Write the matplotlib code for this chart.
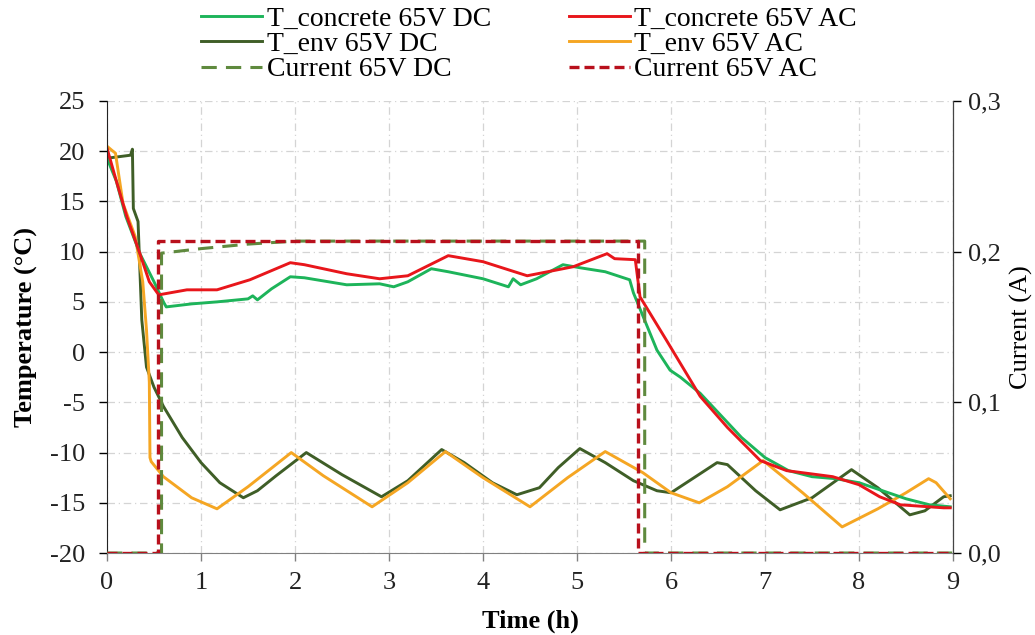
import matplotlib
matplotlib.use('Agg')
import matplotlib.pyplot as plt
from matplotlib.ticker import FuncFormatter, MultipleLocator

plt.rcParams['font.family'] = ['Liberation Serif', 'DejaVu Serif']

# temperature series (time in h, temperature in degC)
conc_dc_t = [0, 0.1, 0.2, 0.35, 0.5, 0.6, 0.63, 0.9, 1.17, 1.5, 1.55, 1.6, 1.75, 1.95, 2.1, 2.55,
             2.9, 3.05, 3.2, 3.45, 3.63, 4.0, 4.27, 4.32, 4.4, 4.57, 4.85, 5.03, 5.3, 5.56, 5.6,
             5.85, 5.99, 6.1, 6.31, 6.5, 6.75, 7.0, 7.25, 7.5, 7.75, 8.0, 8.25, 8.5, 8.75, 8.97]
conc_dc_v = [19.3, 17.0, 13.5, 9.8, 7.0, 5.0, 4.5, 4.8, 5.0, 5.3, 5.6, 5.2, 6.3, 7.5, 7.4, 6.7,
             6.8, 6.5, 7.0, 8.3, 8.0, 7.3, 6.5, 7.3, 6.7, 7.3, 8.7, 8.4, 8.0, 7.2, 5.9,
             0.2, -1.8, -2.5, -4.1, -6.0, -8.5, -10.5, -11.8, -12.4, -12.6, -13.0, -13.8, -14.6, -15.2, -15.4]

conc_ac_t = [0, 0.1, 0.21, 0.35, 0.45, 0.55, 0.85, 1.17, 1.52, 1.95, 2.1, 2.55, 2.9, 3.2, 3.63,
             4.0, 4.47, 4.96, 5.32, 5.4, 5.62, 5.67, 5.95, 6.31, 6.6, 6.95, 7.23, 7.72, 8.0, 8.22,
             8.44, 8.9, 8.97]
conc_ac_v = [20.3, 17.0, 13.5, 9.8, 7.0, 5.7, 6.2, 6.2, 7.2, 8.9, 8.7, 7.8, 7.3, 7.6, 9.6,
             9.0, 7.6, 8.5, 9.8, 9.3, 9.2, 5.5, 1.2, -4.4, -7.5, -10.8, -11.8, -12.4, -13.2, -14.4,
             -15.2, -15.5, -15.5]

env_dc_t = [0, 0.25, 0.27, 0.28, 0.33, 0.37, 0.42, 0.5, 0.6, 0.8, 1.0, 1.2, 1.45, 1.6, 1.8, 2.12,
            2.5, 2.92, 3.2, 3.56, 3.8, 4.1, 4.36, 4.6, 4.8, 5.03, 5.3, 5.6, 5.85, 6.0, 6.49, 6.6,
            6.9, 7.16, 7.5, 7.92, 8.2, 8.54, 8.7, 8.9, 8.97]
env_dc_v = [19.3, 19.6, 20.2, 14.3, 13.0, 3.2, -1.5, -3.5, -5.4, -8.5, -11.0, -13.0, -14.5, -13.8, -12.3, -10.0,
            -12.2, -14.4, -12.8, -9.7, -11.0, -13.0, -14.2, -13.5, -11.5, -9.6, -11.0, -12.8, -13.8, -14.0, -11.0, -11.2,
            -13.8, -15.7, -14.5, -11.7, -13.5, -16.2, -15.8, -14.4, -14.3]

env_ac_t = [0, 0.05, 0.09, 0.17, 0.3, 0.38, 0.42, 0.45, 0.457, 0.47, 0.6, 0.9, 1.17, 1.5, 1.96, 2.3,
            2.82, 3.2, 3.6, 4.0, 4.5, 4.9, 5.3, 5.7, 6.0, 6.3, 6.6, 6.98, 7.4, 7.82, 8.2, 8.5, 8.74,
            8.82, 8.97]
env_ac_v = [20.5, 20.1, 19.8, 14.8, 11.5, 7.0, 2.2, -3.0, -10.5, -10.9, -12.4, -14.5, -15.6, -13.4, -10.0, -12.3,
            -15.4, -13.0, -9.9, -12.5, -15.4, -12.5, -9.9, -12.0, -14.0, -15.0, -13.4, -10.8, -14.0, -17.4, -15.6, -14.0, -12.6,
            -13.0, -14.6]

# current series (A)
cur_dc_t = [0, 0.58, 0.58, 1.0, 1.5, 2.0, 5.72, 5.72, 9.0]
cur_dc_v = [0, 0, 0.199, 0.202, 0.205, 0.207, 0.207, 0, 0]
cur_ac_t = [0, 0.54, 0.54, 5.65, 5.65, 9.0]
cur_ac_v = [0, 0, 0.207, 0.207, 0, 0]

c_conc_dc = '#1db45a'
c_conc_ac = '#e8161b'
c_env_dc = '#3f5e27'
c_env_ac = '#f5a623'
c_cur_dc = '#5f8a3e'
c_cur_ac = '#b8101c'

fs = 19

fig = plt.figure(figsize=(10.35, 6.35), dpi=100)
ax = fig.add_axes([0.1034, 0.1291, 0.8174, 0.7119])
ax2 = ax.twinx()

l1, = ax.plot(env_dc_t, env_dc_v, color=c_env_dc, lw=2.1, label='T_env 65V DC')
l2, = ax.plot(env_ac_t, env_ac_v, color=c_env_ac, lw=2.1, label='T_env 65V AC')
l3, = ax.plot(conc_dc_t, conc_dc_v, color=c_conc_dc, lw=2.1, label='T_concrete 65V DC')
l4, = ax.plot(conc_ac_t, conc_ac_v, color=c_conc_ac, lw=2.1, label='T_concrete 65V AC')

l5, = ax2.plot(cur_dc_t, cur_dc_v, color=c_cur_dc, lw=2.2, dashes=(5, 3), label='Current 65V DC')
l6, = ax2.plot(cur_ac_t, cur_ac_v, color=c_cur_ac, lw=2.4, dashes=(3, 1.5), label='Current 65V AC')

ax.set_xlim(0, 9)
ax.set_ylim(-20, 25)
ax2.set_ylim(0, 0.3)
ax.xaxis.set_major_locator(MultipleLocator(1))
ax.yaxis.set_major_locator(MultipleLocator(5))
ax2.yaxis.set_major_locator(MultipleLocator(0.1))
ax2.yaxis.set_major_formatter(FuncFormatter(lambda v, p: f'{v:.1f}'.replace('.', ',')))
ax.yaxis.set_major_formatter(FuncFormatter(lambda v, p: f'{v:.0f}'.replace('\u2212', '-')))

ax.grid(True, color='#d4d4d4', lw=0.9, linestyle=(0, (6, 3, 1, 3)))

for a in (ax, ax2):
    a.spines['top'].set_visible(False)
ax.spines['left'].set_color('#222222')
ax.spines['bottom'].set_color('#808080')
ax2.spines['right'].set_color('#444444')
ax2.spines['left'].set_visible(False)
ax2.spines['bottom'].set_visible(False)

ax.tick_params(axis='both', labelsize=fs, length=6, width=1, direction='out')
ax.tick_params(axis='x', colors='#808080', labelcolor='#222222', pad=8)
ax.tick_params(axis='y', pad=10, labelcolor='#222222')
ax2.tick_params(axis='y', labelsize=fs, length=6, width=1, pad=5, labelcolor='#222222')

ax.set_xlabel('Time (h)', fontsize=fs, fontweight='bold', labelpad=11)
ax.set_ylabel('Temperature (°C)', fontsize=fs, fontweight='bold', labelpad=8)
ax2.set_ylabel('Current (A)', fontsize=fs, rotation=90, labelpad=6)

handles = [l3, l1, l5, l4, l2, l6]
fig.legend(handles=handles, labels=[h.get_label() for h in handles], ncol=2,
           loc='upper center', bbox_to_anchor=(0.511, 1.03), frameon=False, fontsize=20,
           handlelength=2.2, handletextpad=0.15, columnspacing=2.8, labelspacing=0.0)

fig.savefig('out.png', dpi=100)
